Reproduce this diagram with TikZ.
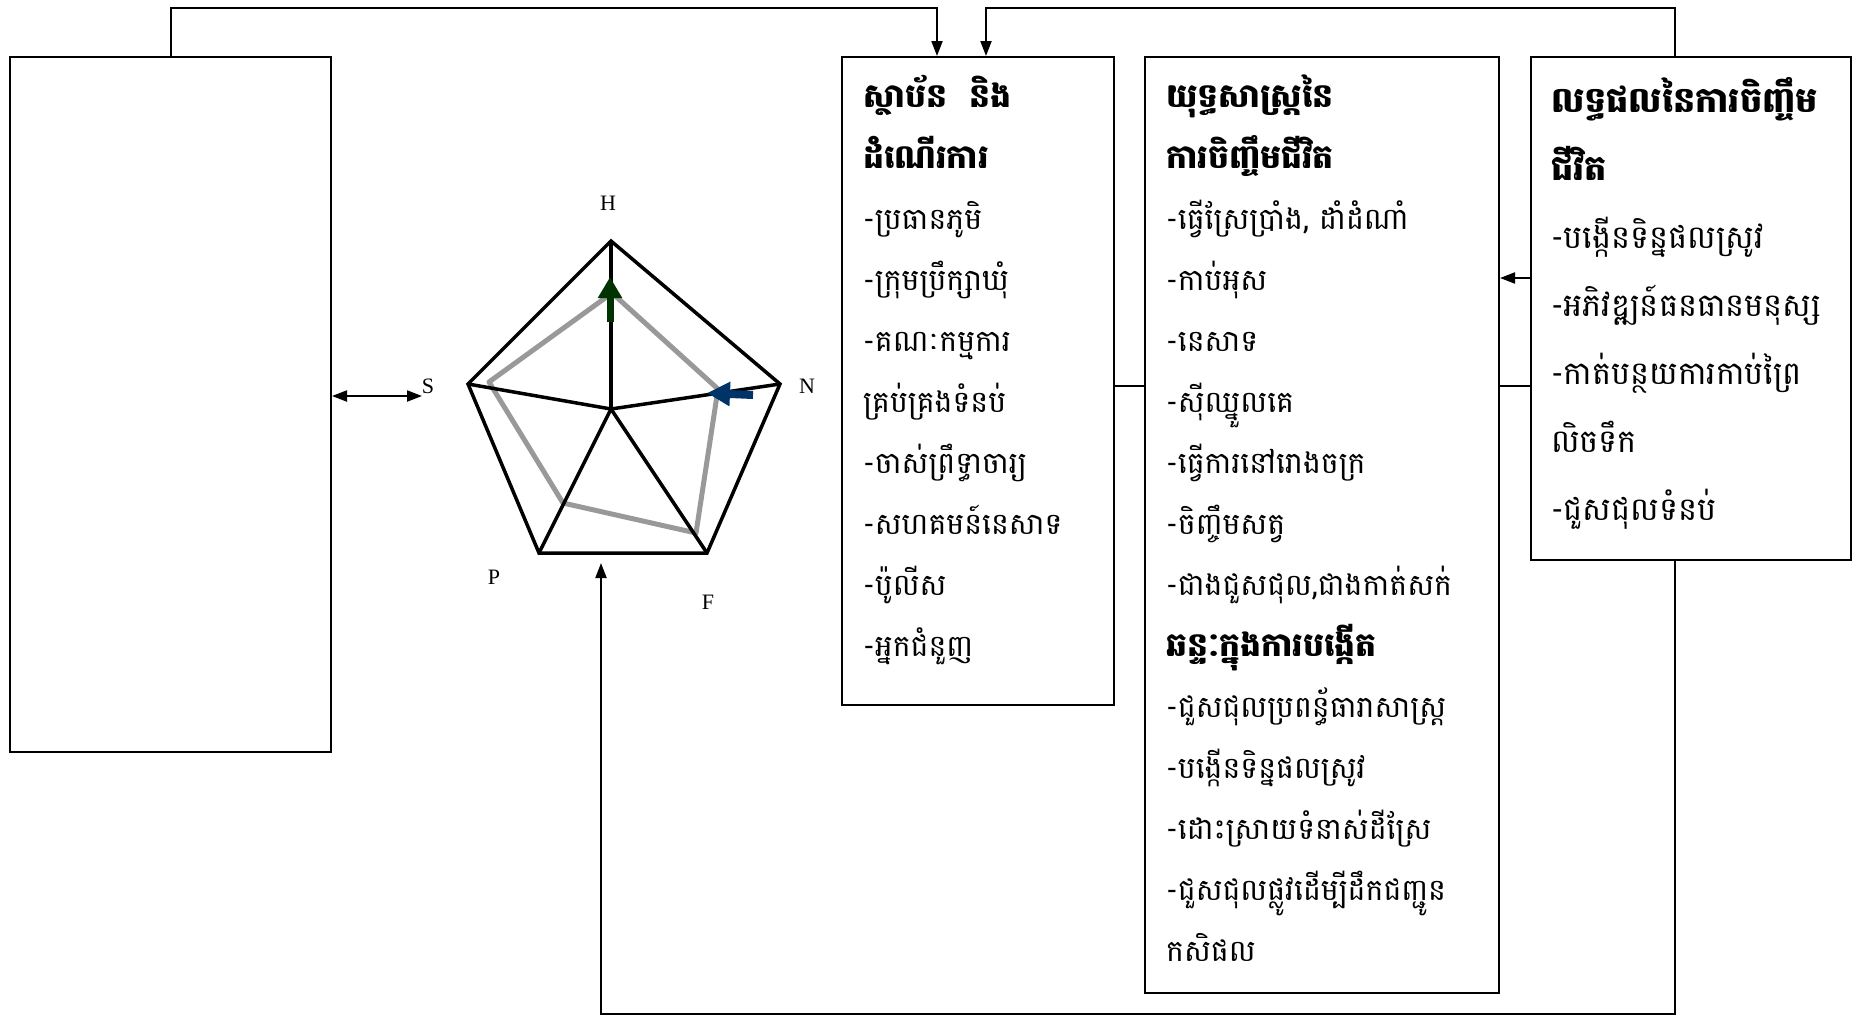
\documentclass[tikz,border=0pt]{standalone}
\usepackage{fontspec}
\setmainfont{Liberation Serif}
\newfontfamily\khmer[Script=Khmer]{Battambang}
\usetikzlibrary{arrows.meta,calc}
\definecolor{arrowgreen}{HTML}{003300}
\definecolor{arrowblue}{HTML}{003366}
\definecolor{scoregray}{HTML}{999999}
\newcommand{\ttl}[2][33]{{\bfseries\fontsize{#1}{36}\selectfont #2}}
\tikzset{
  box/.style={draw, line width=2pt, anchor=north west, inner sep=0pt},
  kh/.style={anchor=base west, inner sep=0pt, font=\khmer\fontsize{#1}{34}\selectfont},
  kh/.default=30,
  link/.style={line width=2pt},
  tip/.style={-{Triangle[length=15pt,width=11pt]}},
  twotip/.style={{Triangle[length=15pt,width=11pt]}-{Triangle[length=15pt,width=11pt]}},
  web/.style={line width=3.5pt, line join=miter},
  score/.style={line width=5pt, scoregray, line join=round},
  lbl/.style={inner sep=0pt, font=\fontsize{22}{24}\selectfont}
}

\begin{document}
\begin{tikzpicture}[x=1pt,y=-1pt]
\useasboundingbox (0,0) rectangle (1852,1018);

\node[box, minimum width=321pt, minimum height=695pt] (blank) at (9,56) {};
\node[box, minimum width=272pt, minimum height=648pt] (inst) at (841,56) {};
\node[box, minimum width=354pt, minimum height=936pt] (strat) at (1144,56) {};
\node[box, minimum width=320pt, minimum height=503pt] (outc) at (1530,56) {};

\foreach \t [count=\i] in {{\ttl{ស្ថាប័ន\ \ និង}},{\ttl{ដំណើរការ}},-ប្រធានភូមិ,-ក្រុមប្រឹក្សាឃុំ,-គណៈកម្មការ,គ្រប់គ្រងទំនប់,-ចាស់ព្រឹទ្ធាចារ្យ,-សហគមន៍នេសាទ,-ប៉ូលីស,-អ្នកជំនួញ}
  \node[kh] (inst-\i) at (863,{107+(\i-1)*61}) {\t};

\foreach \t [count=\i] in {{\ttl{យុទ្ធសាស្ត្រនៃ}},{\ttl{ការចិញ្ចឹមជីវិត}},{-ធ្វើស្រែប្រាំង, ដាំដំណាំ},-កាប់អុស,-នេសាទ,-ស៊ីឈ្នួលគេ,-ធ្វើការនៅរោងចក្រ,-ចិញ្ចឹមសត្វ,{-ជាងជួសជុល,ជាងកាត់សក់},{\ttl{ឆន្ទៈក្នុងការបង្កើត}},-ជួសជុលប្រពន្ធ័ធារាសាស្ត្រ,-បង្កើនទិន្នផលស្រូវ,-ដោះស្រាយទំនាស់ដីស្រែ,-ជួសជុលផ្លូវដើម្បីដឹកជញ្ជូន,កសិផល}
  \node[kh] (strat-\i) at (1166,{107+(\i-1)*61}) {\t};

\foreach \t [count=\i] in {{\ttl[35]{លទ្ធផលនៃការចិញ្ចឹម}},{\ttl[35]{ជីវិត}},-បង្កើនទិន្នផលស្រូវ,-អភិវឌ្ឍន៍ធនធានមនុស្ស,-កាត់បន្ថយការកាប់ព្រៃ,លិចទឹក,-ជួសជុលទំនប់}
  \node[kh=32] (outc-\i) at (1551,{112+(\i-1)*68}) {\t};

% pentagon
\coordinate (H) at (611,241);
\coordinate (N) at (780,384);
\coordinate (F) at (707,553);
\coordinate (P) at (539,553);
\coordinate (S) at (468,384);
\coordinate (O) at (611,409);
\draw[score] (612,293) -- (489,382) -- (563,503) -- (696,533) -- (718,389) -- cycle;
\draw[web] (H) -- (N) -- (F) -- (P) -- (S) -- cycle;
\foreach \v in {H,N,F,P,S}
  \draw[web] (O) -- (\v);
\draw[line width=7pt, arrowgreen, -{Triangle[length=21pt,width=23pt]}] (610,322) -- (610,277);
\draw[line width=8pt, arrowblue, -{Triangle[length=23pt,width=23pt]}] (753,395) -- (707,393);

\node[lbl] (lH) at (608,203) {H};
\node[lbl] (lN) at (807,386) {N};
\node[lbl] (lF) at (708,602) {F};
\node[lbl] (lP) at (494,577) {P};
\node[lbl] (lS) at (428,386) {S};

% connectors
\coordinate (top1) at (937,8);
\coordinate (top2) at (986,8);
\coordinate (bot) at (601,1014);
\coordinate (base) at (601,563);
\coordinate (sEnd) at (422,396);
\draw[link, tip] (blank.north) |- (top1) -- (top1 |- inst.north);
\draw[link, tip] ([xshift=-16pt]outc.north) |- (top2) -- (top2 |- inst.north);
\draw[link, tip] ([xshift=-16pt]outc.south) |- (bot) -- (base);
\draw[link, tip] (outc.west |- 0,278) -- (strat.east |- 0,278);
\draw[link] (inst.east |- 0,386) -- (strat.west |- 0,386);
\draw[link] (strat.east |- 0,386) -- (outc.west |- 0,386);
\draw[link, twotip] (blank.east |- sEnd) -- (sEnd);
\end{tikzpicture}
\end{document}
